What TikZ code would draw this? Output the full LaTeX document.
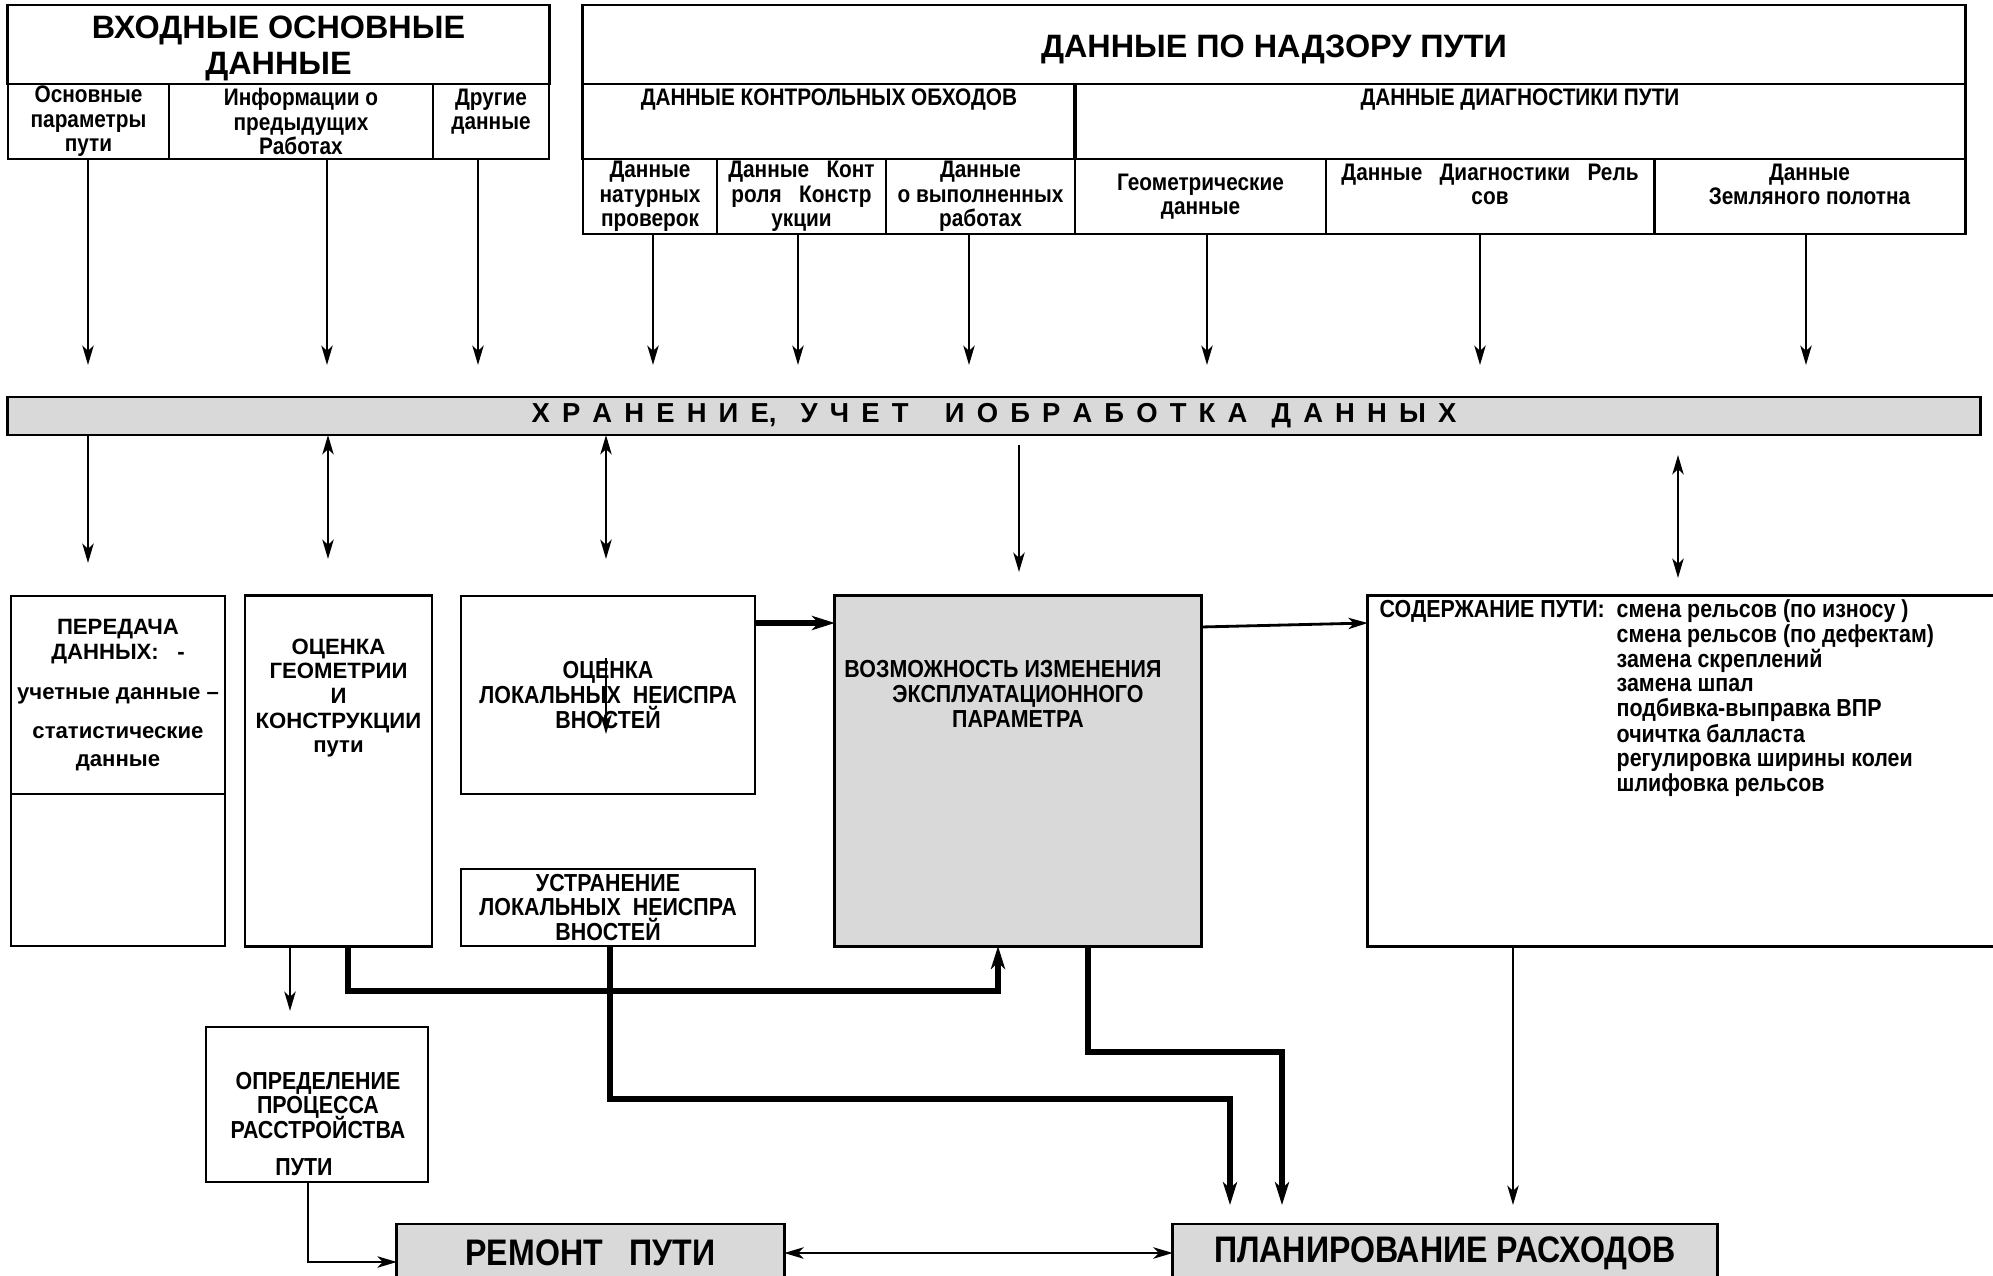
\documentclass[tikz,border=0pt]{standalone}
\usepackage{fontspec}
\setmainfont{Liberation Sans}
\newfontfamily\condfont[FakeStretch=0.87]{Liberation Sans}
\usepackage{tikz}
\usetikzlibrary{arrows.meta}
\definecolor{store}{HTML}{D9D9D9}
\definecolor{proc}{HTML}{D9D9D9}
\definecolor{result}{HTML}{D9D9D9}
\newcommand\headtxt{\fontsize{9.2}{10.2}\selectfont\bfseries}
\newcommand\celltxt{\condfont\fontsize{6.8}{7}\selectfont\bfseries\lineskiplimit=-5pt\relax}
\newcommand\blocktxt{\fontsize{6.3}{7}\selectfont\bfseries\lineskiplimit=-5pt\relax}
\newcommand\condtxt{\condfont\fontsize{7}{7}\selectfont\bfseries\lineskiplimit=-5pt\relax}
\newcommand\storetxt{\fontsize{7.8}{9}\selectfont\bfseries\spaceskip=3.45pt\relax}
\newcommand\resulttxt{\condfont\fontsize{10.5}{12}\selectfont\bfseries}
\tikzset{cell/.style={black,draw=black,line width=0.8pt,rectangle,inner sep=0pt,outer sep=0pt,align=center,font=\celltxt}}
\tikzset{head/.style={cell,font=\headtxt}}
\tikzset{block/.style={cell,font=\blocktxt}}
\tikzset{cblock/.style={cell,font=\condtxt}}
\tikzset{store/.style={cell,fill=store,font=\storetxt}}
\tikzset{proc/.style={cell,fill=proc,font=\condtxt}}
\tikzset{result/.style={cell,fill=result,font=\resulttxt}}
\tikzset{txt/.style={black,inner sep=0pt,align=center}}
\tikzset{arr/.style={-{Stealth[length=5.5pt,width=3.2pt,inset=1.5pt]},line width=0.8pt}}
\tikzset{dblarr/.style={{Stealth[length=5.5pt,width=3.2pt,inset=1.5pt]}-{Stealth[length=5.5pt,width=3.2pt,inset=1.5pt]},line width=0.8pt}}
\tikzset{thickarr/.style={-{Stealth[length=6.5pt,width=4pt,inset=1.8pt]},line width=1.6pt}}

\begin{document}
\begin{tikzpicture}[x=0.01cm,y=-0.01cm]
    \useasboundingbox (0,0) rectangle (1993,1276);
    \clip (0,0) rectangle (1993,1276);

    % input data
    \node[head,minimum width=5.41cm,minimum height=0.79cm] (inptitle) at (278.5,44.5) {};
    \node[txt,font=\headtxt] (inptitletxt) at (278.5,48.5) {ВХОДНЫЕ ОСНОВНЫЕ\\ДАННЫЕ};
    \node[cell,minimum width=1.61cm,minimum height=0.75cm] (inpA) at (88.5,121.5) {Основные\\параметры\\пути};
    \node[cell,minimum width=2.64cm,minimum height=0.75cm] (inpB) at (301,121.5) {Информации о\\предыдущих\\Работах};
    \node[cell,minimum width=1.16cm,minimum height=0.75cm] (inpC) at (491,121.5) {Другие\\данные\\~};

    % track supervision data
    \node[head,minimum width=13.82cm,minimum height=0.79cm,text height=9pt] (suptitle) at (1274,44.5)
    {ДАННЫЕ ПО НАДЗОРУ ПУТИ};
    \node[cell,minimum width=4.92cm,minimum height=0.75cm] (supK) at (829,121.5) {ДАННЫЕ КОНТРОЛЬНЫХ ОБХОДОВ\\~\\~};
    \node[cell,minimum width=8.90cm,minimum height=0.75cm] (supD) at (1520,121.5) {ДАННЫЕ ДИАГНОСТИКИ ПУТИ\\~\\~};
    \node[cell,minimum width=1.34cm,minimum height=0.75cm] (s1) at (650,196.5) {Данные\\натурных\\проверок};
    \node[cell,minimum width=1.69cm,minimum height=0.75cm] (s2) at (801.5,196.5) {Данные~~~Конт\\роля~~~Констр\\укции};
    \node[cell,minimum width=1.89cm,minimum height=0.75cm] (s3) at (980.5,196.5) {Данные\\о выполненных\\работах};
    \node[cell,minimum width=2.51cm,minimum height=0.75cm] (s4) at (1200.5,196.5) {Геометрические\\данные};
    \node[cell,minimum width=3.28cm,minimum height=0.75cm] (s5) at (1490,196.5) {Данные~~~Диагностики~~~Рель\\сов\\~};
    \node[cell,minimum width=3.11cm,minimum height=0.75cm] (s6) at (1809.5,196.5) {Данные\\Земляного полотна\\~};

    \coordinate (tA) at (88,365);
    \coordinate (tB) at (327,365);
    \coordinate (tC) at (478,365);
    \coordinate (t1) at (653,365);
    \coordinate (t2) at (798,365);
    \coordinate (t3) at (969,365);
    \coordinate (t4) at (1207,365);
    \coordinate (t5) at (1480,365);
    \coordinate (t6) at (1806,365);
    \draw[arr] (inpA.south -| tA) -- (tA);
    \draw[arr] (inpB.south -| tB) -- (tB);
    \draw[arr] (inpC.south -| tC) -- (tC);
    \draw[arr] (s1.south -| t1) -- (t1);
    \draw[arr] (s2.south -| t2) -- (t2);
    \draw[arr] (s3.south -| t3) -- (t3);
    \draw[arr] (s4.south -| t4) -- (t4);
    \draw[arr] (s5.south -| t5) -- (t5);
    \draw[arr] (s6.south -| t6) -- (t6);

    % storage bar
    \node[store,minimum width=19.72cm,minimum height=0.38cm] (store) at (994,416)
    {Х Р А Н Е Н И Е,~~У Ч Е Т~~~И О Б Р А Б О Т К А~~Д А Н Н Ы Х};

    % middle row
    \node[block,minimum width=2.14cm,minimum height=1.98cm] (peredtop) at (118,695)
    {ПЕРЕДАЧА\\ДАННЫХ:~~~-\\[4.4pt]учетные данные –\\[4.1pt]статистические\hspace*{0.28cm}\\[1pt]данные};
    \node[block,minimum width=2.14cm,minimum height=1.52cm] (peredbot) at (118,870) {};
    \node[block,minimum width=1.87cm,minimum height=3.50cm] (ocgeom) at (338.5,771) {};
    \node[txt,font=\blocktxt] (ocgeomtxt) at (338.5,698) {ОЦЕНКА\\ГЕОМЕТРИИ\\И\\КОНСТРУКЦИИ\\пути};
    \node[cblock,minimum width=2.94cm,minimum height=1.98cm] (oclok) at (608,695)
    {ОЦЕНКА\\ЛОКАЛЬНЫХ~~НЕИСПРА\\ВНОСТЕЙ};
    \node[cblock,minimum width=2.94cm,minimum height=0.77cm] (ustr) at (608,907.5)
    {УСТРАНЕНИЕ\\ЛОКАЛЬНЫХ~~НЕИСПРА\\ВНОСТЕЙ};
    \node[proc,minimum width=3.66cm,minimum height=3.50cm] (vozm) at (1018,771) {};
    \node[txt,font=\condtxt] (vozmtxt) at (1018,694)
    {ВОЗМОЖНОСТЬ ИЗМЕНЕНИЯ\hspace*{0.3cm}\\ЭКСПЛУАТАЦИОННОГО\\ПАРАМЕТРА};
    \node[cblock,minimum width=7.32cm,minimum height=3.50cm] (soder) at (1734,771) {};
    \node[txt,font=\condtxt,anchor=base west] (sodertxt) at (1379,617)
    {\def\arraystretch{0.975}СОДЕРЖАНИЕ ПУТИ:~~\begin{tabular}[t]{@{}l@{}}смена рельсов (по износу )\\смена рельсов (по дефектам)\\замена скреплений\\замена шпал\\подбивка-выправка ВПР\\очичтка балласта\\регулировка ширины колеи\\шлифовка рельсов\end{tabular}};

    \coordinate (d1) at (88,563);
    \coordinate (d2) at (328,559);
    \coordinate (d3) at (606,559);
    \coordinate (d4s) at (1019,445);
    \coordinate (d4) at (1019,572);
    \coordinate (d5s) at (1678,455);
    \coordinate (d5) at (1678,578);
    \draw[arr] (store.south -| d1) -- (d1);
    \draw[dblarr] (store.south -| d2) -- (d2);
    \draw[dblarr] (store.south -| d3) -- (d3);
    \draw[arr] (d4s) -- (d4);
    \draw[dblarr] (d5s) -- (d5);

    \coordinate (i1) at (606,658);
    \coordinate (i2) at (606,734);
    \draw[arr] (i1) -- (i2);

    \coordinate (h1) at (0,623);
    \coordinate (h2) at (0,627);
    \draw[thickarr] (oclok.east |- h1) -- (vozm.west |- h1);
    \draw[arr] (vozm.east |- h2) -- (soder.west |- h1);

    % lower part
    \node[cblock,minimum width=2.22cm,minimum height=1.55cm] (opred) at (317,1104.5) {};
    \node[txt,font=\condtxt] (opredtxt) at (318,1124)
    {ОПРЕДЕЛЕНИЕ\\ПРОЦЕССА\\РАССТРОЙСТВА\\[3.6pt]ПУТИ\hspace*{0.28cm}};
    \node[result,minimum width=3.87cm,minimum height=0.58cm] (remont) at (590.5,1253) {РЕМОНТ~~~ПУТИ};
    \node[result,minimum width=5.44cm,minimum height=0.58cm] (plan) at (1445,1253) {ПЛАНИРОВАНИЕ РАСХОДОВ};

    \coordinate (g1) at (290,1011);
    \draw[arr] (ocgeom.south -| g1) -- (g1);

    \coordinate (j1) at (348,991);
    \coordinate (j2) at (998,991);
    \draw[thickarr] (ocgeom.south -| j1) -- (j1) -- (j2) -- (vozm.south -| j2);

    \coordinate (k1) at (610,1099);
    \coordinate (k2) at (1230,1099);
    \coordinate (k3) at (1230,1205);
    \draw[thickarr] (ustr.south -| k1) -- (k1) -- (k2) -- (k3);

    \coordinate (m1) at (1088,1052);
    \coordinate (m2) at (1282,1052);
    \coordinate (m3) at (1282,1205);
    \draw[thickarr] (vozm.south -| m1) -- (m1) -- (m2) -- (m3);

    \coordinate (n1) at (1513,1205);
    \draw[arr] (soder.south -| n1) -- (n1);

    \coordinate (o1) at (308,1262);
    \draw[arr] (opred.south -| o1) -- (o1) -- (remont.west |- o1);

    \draw[dblarr] (remont.east) -- (plan.west);

\end{tikzpicture}
\end{document}
